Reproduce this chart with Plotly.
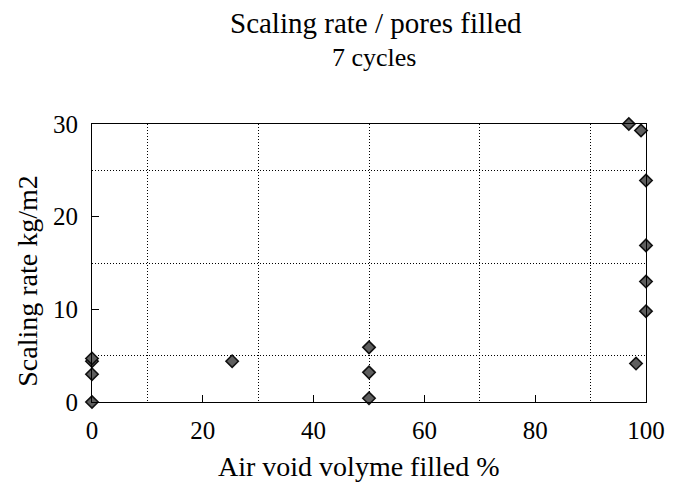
import plotly.graph_objects as go

# Air void volume filled (%) and measured scaling after 7 freeze-thaw cycles
pores_filled = [0, 0, 0, 0, 25.3, 50, 50, 50, 96.9, 99.1, 100, 100, 100, 100, 98.2]
scaling_rate = [0, 3.0, 4.4, 4.7, 4.4, 5.9, 3.2, 0.4, 30.0, 29.3, 23.9, 16.9, 13.0, 9.8, 4.15]

x_ticks = [0, 20, 40, 60, 80, 100]
y_ticks = [0, 10, 20, 30]

FONT = "Liberation Serif"

fig = go.Figure()
fig.add_trace(go.Scatter(
    x=pores_filled,
    y=scaling_rate,
    mode="markers",
    cliponaxis=False,
    marker=dict(symbol="diamond", size=9.5, color="#5e5e5e",
                line=dict(color="#111111", width=1.6)),
    showlegend=False,
))

axis_common = dict(
    showline=True, linecolor="black", linewidth=1, mirror=True,
    ticks="inside", ticklen=7, tickcolor="black", tickwidth=1,
    showgrid=False, zeroline=False,
    tickfont=dict(family=FONT, size=25, color="black"),
)

fig.update_xaxes(
    range=[0, 100], tickvals=x_ticks, ticklabelstandoff=6,
    minor=dict(tick0=10, dtick=20, showgrid=True, gridcolor="black",
               griddash="1px,2px", gridwidth=1, ticks=""),
    **axis_common,
)
fig.update_yaxes(
    range=[0, 30], tickvals=y_ticks, ticklabelstandoff=8,
    minor=dict(tick0=5, dtick=10, showgrid=True, gridcolor="black",
               griddash="1px,2px", gridwidth=1, ticks=""),
    **axis_common,
)

annotations = [
    dict(text="Scaling rate / pores filled", x=0.513, y=1.365, size=29),
    dict(text="7 cycles", x=0.509, y=1.24, size=26),
    dict(text="Air void volyme filled %", x=0.482, y=-0.232, size=28),
]
for a in annotations:
    fig.add_annotation(
        text=a["text"], xref="paper", yref="paper", x=a["x"], y=a["y"],
        xanchor="center", yanchor="middle", showarrow=False,
        font=dict(family=FONT, size=a["size"], color="black"),
    )
fig.add_annotation(
    text="Scaling rate kg/m2", xref="paper", yref="paper", x=-0.118, y=0.435,
    xanchor="center", yanchor="middle", showarrow=False, textangle=-90,
    font=dict(family=FONT, size=28, color="black"),
)

fig.update_layout(
    width=677, height=487,
    margin=dict(l=92, r=19, t=124, b=85),
    paper_bgcolor="white", plot_bgcolor="white",
    font=dict(family=FONT, color="black"),
)

fig.write_html("out.html")
